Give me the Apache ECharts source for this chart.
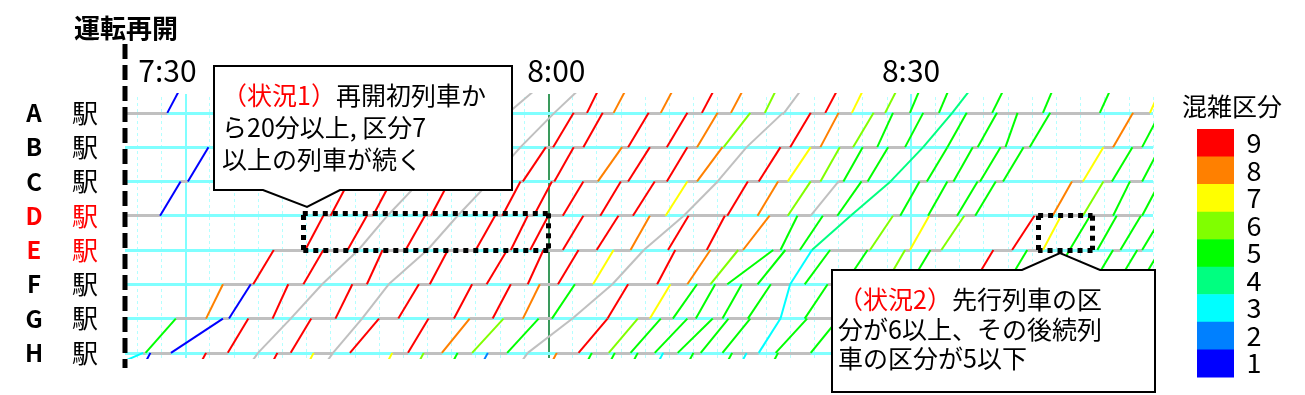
<!DOCTYPE html>
<html><head><meta charset="utf-8">
<script src="https://cdn.jsdelivr.net/npm/echarts@6/dist/echarts.min.js"></script>
<style>html,body{margin:0;padding:0;background:#fff}#c{width:1305px;height:395px}</style>
</head><body><div id="c"></div>
<script>
// ---- data (times = minutes after 7:00) ----
const stationNames = ['H','G','F','E','D','C','B','A']; // level 0..7 (bottom to top)
const highlightStations = ['D','E'];
const tickTimes = [30, 60, 90];
const tickLabels = ['7:30', '8:00', '8:30'];
const restartTime = 25;
const timeMin = 25, timeMax = 110;
const classColors = ['#c0c0c0','#0000ff','#0080ff','#00ffff','#00ff80','#00ff00','#80ff00','#ffff00','#ff8000','#ff0000'];
const legendClasses = [9,8,7,6,5,4,3,2,1];
const restartWaits = [[7, 25, 28.5], [4, 25, 27.9]];
const situationBoxes = [[39.7, 60.0, 3, 4.07], [100.5, 105.0, 3, 4.0]];

// each segment: [time leaving lower station, time reaching upper station, congestion class (0 = gray)]
const gapBelowH = [[20.0,26.5,3],[25.6,27.1,1],[30.2,31.7,9],[34.0,36.0,0],[36.1,37.6,9],[39.1,40.6,7],[40.2,42.2,0],
  [45.6,47.1,7],[48.2,49.7,6],[51.0,52.5,5],[53.5,55.0,2],[56.3,58.3,0],[59.2,60.7,8],[62.1,63.6,5],[64.0,65.5,5],
  [65.9,67.4,5],[68.0,69.5,3],[70.5,72.0,5],[73.7,75.2,5],[74.9,76.4,3],[77.5,79.0,5]];
const gapHG = [[26.7,29.2,5],[28.8,33.1,1],[33.5,35.2,9],[36.0,38.7,0],[38.7,40.4,9],[42.2,44.6,0],[43.6,46.0,9],
  [48.4,50.1,9],[51.2,53.5,8],[53.7,56.3,6],[56.6,59.2,5],[58.3,62.0,0],[62.5,64.9,9],[65.0,67.4,6],[66.8,69.3,5],
  [68.8,71.5,5],[70.7,73.6,5],[72.6,74.9,5],[74.4,76.7,5],[77.4,79.2,3],[78.8,81.4,5],[81.7,84.0,5]];
const gapGF = [[31.7,33.1,8],[33.6,35.4,1],[37.2,38.5,9],[38.7,41.3,0],[42.4,43.8,9],[44.6,46.8,0],[47.6,49.3,9],
  [52.2,53.7,9],[55.4,56.9,9],[57.9,59.3,8],[60.3,62.2,5],[62.0,65.3,0],[64.9,66.6,9],[68.4,70.1,7],[70.3,72.3,5],
  [72.2,73.8,5],[74.4,76.0,5],[76.5,78.4,5],[79.2,80.0,3],[81.2,83.1,5],[83.5,85.5,5]];
const gapFE = [[35.6,37.3,9],[39.75,41.4,9],[41.3,44.3,0],[45.0,46.3,9],[46.8,50.0,0],[50.2,51.7,9],[54.9,56.6,9],
  [58.3,59.6,9],[60.8,62.5,9],[63.7,65.4,7],[65.3,67.9,0],[69.0,70.5,9],[71.5,73.4,8],[73.4,75.7,6],[74.8,78.6,5],
  [77.3,79.6,5],[80.0,81.8,3],[81.2,83.3,5],[84.5,86.4,5],[87.85,89.5,6],[89.9,91.6,5],[95.1,96.8,9],[97.9,99.6,5],
  [101.5,103.1,5],[105.0,106.7,5],[107.0,108.7,5],[108.9,110.6,5]];
const gapED = [[39.9,41.4,9],[43.4,45.0,9],[44.3,46.7,0],[48.2,49.8,9],[50.0,52.5,0],[54.0,55.6,9],[56.9,58.3,9],
  [58.5,60.0,9],[61.2,62.9,9],[64.0,65.8,9],[66.8,68.4,8],[67.9,71.2,0],[69.9,71.6,9],[73.1,74.6,9],[76.1,78.3,8],
  [79.2,80.6,5],[80.8,82.7,5],[81.8,85.0,4],[86.6,88.5,6],[89.9,91.5,7],[92.5,94.4,6],[98.35,100.2,9],[100.9,102.4,7],
  [103.1,104.8,5],[105.4,107.0,5],[107.3,109.0,5],[109.1,110.8,5]];
const gapDC = [[27.9,29.6,1],[42.0,43.5,9],[45.5,47.0,9],[46.7,49.4,0],[50.3,51.8,9],[52.5,55.2,0],[56.2,57.7,9],
  [58.8,60.3,9],[61.2,62.9,9],[64.3,66.0,9],[67.0,68.8,9],[69.7,71.5,7],[71.2,74.0,0],[74.8,76.5,9],[77.3,79.0,8],
  [79.8,81.7,6],[81.7,84.0,0],[83.9,85.9,5],[85.0,88.3,4],[89.1,90.7,5],[91.4,93.0,5],[93.8,95.5,5],[95.3,97.0,5],
  [101.7,103.3,8],[104.2,105.9,6],[106.7,108.1,5],[109.1,110.6,5]];
const gapCB = [[30.2,31.9,1],[49.8,52.7,0],[55.2,57.7,0],[57.9,59.8,9],[60.5,62.1,9],[64.1,66.1,8],[66.6,68.4,9],
  [69.8,71.5,9],[72.3,74.4,8],[74.0,76.4,0],[77.4,79.2,9],[79.8,81.7,7],[82.5,84.1,6],[84.4,86.0,5],[86.4,88.1,5],
  [88.3,91.0,4],[91.3,93.0,5],[93.5,95.1,5],[95.7,97.4,5],[97.6,99.3,5],[104.2,105.9,7],[106.6,108.3,5],[109.1,110.6,5]];
const gapBA = [[53.6,56.7,0],[57.7,60.5,0],[60.4,62.1,9],[62.9,64.5,9],[66.6,68.3,9],[69.8,71.5,9],[72.3,74.0,8],
  [74.5,76.7,6],[76.4,79.4,0],[80.0,81.7,9],[82.5,84.0,8],[85.2,86.9,6],[87.2,88.5,5],[89.5,91.0,5],[91.0,93.4,4],
  [93.0,94.6,5],[95.5,97.1,5],[97.8,98.8,5],[99.8,101.5,5],[106.7,108.35,8],[109.1,110.6,5]];
const gapAup = [[28.5,30.0,1],[56.7,60.0,0],[60.5,63.5,0],[63.2,64.6,9],[65.4,66.9,8],[69.3,70.8,8],[72.7,74.2,9],
  [75.1,76.6,8],[77.9,79.3,6],[79.5,81.6,0],[82.9,84.4,9],[85.1,86.5,7],[87.85,89.3,6],[89.9,91.1,5],[92.3,93.5,5],
  [93.4,95.6,4],[96.7,98.1,5],[100.9,102.1,5],[105.6,106.9,5],[109.75,111.0,7]];

// gaps[i] runs from level i-1 to level i
const gaps = [gapBelowH, gapHG, gapGF, gapFE, gapED, gapDC, gapCB, gapBA, gapAup];

// ---- build series data ----
const trainData = [];
gaps.forEach((gap, i) => {
  const lower = i - 1;
  gap.forEach(([t0, t1, c]) => trainData.push({coords: [[t0, lower], [t1, lower + 1]], lineStyle: {color: classColors[c]}}));
});

const dwellData = [];
for (let s = 0; s < stationNames.length; s++) {
  const arr = gaps[s].map(g => g[1]).sort((a, b) => a - b);
  const dep = gaps[s + 1].map(g => g[0]).sort((a, b) => a - b);
  let prev = -Infinity;
  dep.forEach(d => {
    const w = arr.filter(a => a > prev && a <= d + 1e-6);
    if (w.length) {
      const a0 = Math.min(...w);
      if (d - a0 <= 6 && d > a0) dwellData.push({coords: [[a0, s], [d, s]]});
    }
    prev = d;
  });
}
restartWaits.forEach(([s, a, b]) => dwellData.push({coords: [[a, s], [b, s]]}));

const stationLineData = stationNames.map((_, s) => ({coords: [[timeMin, s], [timeMax, s]]}));

const yMin = -0.15, yMax = 7.55;
const minorGrid = [];
for (let t = timeMin + 1; t <= timeMax; t += 2) if (!tickTimes.includes(t)) minorGrid.push({coords: [[t, yMin], [t, yMax]]});
const majorGrid = tickTimes.map(t => ({coords: [[t, yMin], [t, yMax]], lineStyle: {color: t === 60 ? '#3a9a5c' : '#80ffff'}}));

const boxEdges = [];
situationBoxes.forEach(([t0, t1, s0, s1]) => {
  boxEdges.push({coords: [[t0, s1], [t1, s1]]}, {coords: [[t1, s1], [t1, s0]]},
                {coords: [[t1, s0], [t0, s0]]}, {coords: [[t0, s0], [t0, s1]]});
});

const labelShift = {30: -18, 60: 8, 90: 0};
const jp = '"Noto Sans CJK JP", "Noto Sans", sans-serif';

const chart = echarts.init(document.getElementById('c'), null, {renderer: 'canvas'});
const option = {
  animation: false,
  backgroundColor: '#fff',
  grid: {left: 125, right: 152, top: 94, bottom: 37},
  xAxis: {
    type: 'value', min: timeMin, max: timeMax, position: 'top',
    axisLine: {show: false}, axisTick: {show: false}, splitLine: {show: false},
    axisLabel: {
      customValues: tickTimes, margin: 8,
      formatter: v => {
        const lab = tickLabels[tickTimes.indexOf(v)];
        const sh = labelShift[v] || 0;
        return sh < 0 ? '{l|' + lab + '}' : (sh > 0 ? '{r|' + lab + '}' : '{n|' + lab + '}');
      },
      rich: {
        l: {fontSize: 30, fontFamily: jp, color: '#000', padding: [0, 36, 0, 0]},
        r: {fontSize: 30, fontFamily: jp, color: '#000', padding: [0, 0, 0, 16]},
        n: {fontSize: 30, fontFamily: jp, color: '#000'}
      }
    }
  },
  yAxis: {
    type: 'value', min: yMin, max: yMax,
    axisLine: {show: false}, axisTick: {show: false}, splitLine: {show: false},
    axisLabel: {
      customValues: stationNames.map((_, i) => i), margin: 27,
      formatter: v => {
        const n = stationNames[v];
        const k = highlightStations.includes(n) ? 'h' : 'n';
        return '{' + k + 'a|' + n + '}{' + k + 'b|駅}';
      },
      rich: {
        na: {width: 40, align: 'center', fontSize: 24, fontWeight: 'bold', color: '#000', fontFamily: jp},
        nb: {width: 26, align: 'center', fontSize: 26, color: '#000', fontFamily: jp, padding: [0, 0, 0, 18]},
        ha: {width: 40, align: 'center', fontSize: 24, fontWeight: 'bold', color: '#ff0000', fontFamily: jp},
        hb: {width: 26, align: 'center', fontSize: 26, color: '#ff0000', fontFamily: jp, padding: [0, 0, 0, 18]}
      }
    }
  },
  series: [
    {type: 'lines', coordinateSystem: 'cartesian2d', z: 1, silent: true, clip: true,
     lineStyle: {color: '#b4ffff', width: 1, type: [3, 3], opacity: 1}, data: minorGrid},
    {type: 'lines', coordinateSystem: 'cartesian2d', z: 2, silent: true, clip: true,
     lineStyle: {width: 2, opacity: 1}, data: majorGrid},
    {type: 'lines', coordinateSystem: 'cartesian2d', z: 3, silent: true, clip: true,
     lineStyle: {color: '#80ffff', width: 3, opacity: 1}, data: stationLineData},
    {type: 'lines', coordinateSystem: 'cartesian2d', z: 4, silent: true, clip: true,
     lineStyle: {color: '#c0c0c0', width: 3, opacity: 1}, data: dwellData},
    {type: 'lines', coordinateSystem: 'cartesian2d', z: 5, silent: true, clip: true,
     lineStyle: {width: 2, opacity: 1}, data: trainData},
    {type: 'lines', coordinateSystem: 'cartesian2d', z: 6, silent: true, clip: false,
     lineStyle: {color: '#000', width: 5, type: [5, 5], cap: 'butt', opacity: 1}, data: boxEdges}
  ]
};
chart.setOption(option);

const xRestart = chart.convertToPixel({xAxisIndex: 0, yAxisIndex: 0}, [restartTime, 0])[0];
const g = [];
g.push({type: 'text', z: 100, style: {text: '運転再開', x: 126, y: 28, align: 'center', verticalAlign: 'middle', font: 'bold 26px ' + jp, fill: '#000'}});
g.push({type: 'line', z: 100, shape: {x1: xRestart, y1: 44, x2: xRestart, y2: 368}, style: {stroke: '#000', lineWidth: 5, lineDash: [15, 6]}});
g.push({type: 'polygon', z: 100, shape: {points: [[214,66],[512,66],[512,190],[340,190],[307,207],[263,190],[214,190]]}, style: {fill: '#fff', stroke: '#000', lineWidth: 2}});
g.push({type: 'text', z: 101, style: {
  text: '{r|（状況1）}{k|再開初列車か}\n{k|ら20分以上, 区分7}\n{k|以上の列車が続く}', x: 222, y: 79,
  rich: {r: {fill: '#ff0000', font: '25px ' + jp, lineHeight: 32}, k: {fill: '#000', font: '25px ' + jp, lineHeight: 32}}}});
g.push({type: 'polygon', z: 100, shape: {points: [[832,270],[1022,270],[1060,253],[1100,270],[1155,270],[1155,392],[832,392]]}, style: {fill: '#fff', stroke: '#000', lineWidth: 2}});
g.push({type: 'text', z: 101, style: {
  text: '{r|（状況2）}{k|先行列車の区}\n{k|分が6以上、その後続列}\n{k|車の区分が5以下}', x: 838, y: 285,
  rich: {r: {fill: '#ff0000', font: '25px ' + jp, lineHeight: 29.5}, k: {fill: '#000', font: '25px ' + jp, lineHeight: 29.5}}}});
g.push({type: 'text', z: 100, style: {text: '混雑区分', x: 1232, y: 106, align: 'center', verticalAlign: 'middle', font: '25px ' + jp, fill: '#000'}});
const bh = 27.55;
legendClasses.forEach((c, i) => {
  g.push({type: 'rect', z: 100, shape: {x: 1197, y: 129 + i * bh, width: 37, height: bh + 0.5}, style: {fill: classColors[c]}});
  g.push({type: 'text', z: 100, style: {text: String(c), x: 1254, y: 129 + i * bh + bh / 2, align: 'center', verticalAlign: 'middle', font: '27px ' + jp, fill: '#000'}});
});
chart.setOption({graphic: g});
</script></body></html>
